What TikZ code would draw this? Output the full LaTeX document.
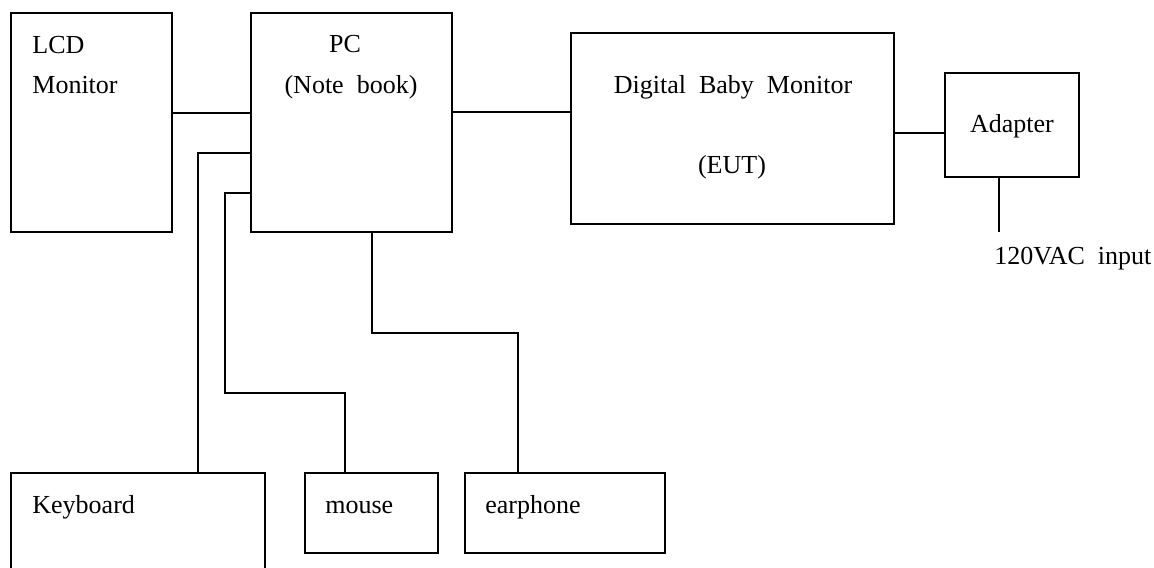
\documentclass[tikz,border=0pt]{standalone}
\usepackage{fontspec}
\setmainfont{Liberation Serif}
\begin{document}
\begin{tikzpicture}[x=0.5pt, y=-0.5pt]
\tikzset{boite/.style={draw, line width=1.1pt, inner sep=0pt},
  texte/.style={inner sep=0pt, font=\fontsize{13}{20}\selectfont},
  fil/.style={line width=1pt}}
\clip (0, 0) rectangle (1154, 567);
\node[boite, minimum width=80.5pt, minimum height=109.5pt] (lcd) at (91.5, 122.5) {};
\node[boite, minimum width=100.5pt, minimum height=109.5pt] (pc) at (351.5, 122.5) {};
\node[boite, minimum width=161.5pt, minimum height=95.5pt] (dbm) at (732.5, 128.5) {};
\node[boite, minimum width=67pt, minimum height=52pt] (adapter) at (1012, 125) {};
\node[boite, minimum width=127pt, minimum height=73.5pt] (kbd) at (138, 546.5) {};
\node[boite, minimum width=66.5pt, minimum height=40pt] (mouse) at (371.5, 513) {};
\node[boite, minimum width=100pt, minimum height=40pt] (ear) at (565, 513) {};
\node[texte, anchor=base west, align=left] (lcdtxt) at (32, 93) {LCD\\Monitor};
\node[texte, anchor=base] (pctxt) at (345, 53) {PC};
\node[texte, anchor=base] (notetxt) at (351, 93) {(Note\ \ book)};
\node[texte, anchor=base] (dbmtxt) at (733, 93) {Digital\ \ Baby\ \ Monitor};
\node[texte, anchor=base] (euttxt) at (732, 173) {(EUT)};
\node[texte, anchor=base] (adtxt) at (1012, 133) {Adapter};
\node[texte, anchor=base west] (kbdtxt) at (32, 513) {Keyboard};
\node[texte, anchor=base west] (mousetxt) at (325, 513) {mouse};
\node[texte, anchor=base west] (eartxt) at (485, 513) {earphone};
\coordinate (acin) at (999, 232);
\node[texte, anchor=base west] (actxt) at (994, 264) {120VAC\ \ input};
\draw[fil] (lcd.east |- 0,113) -- (pc.west |- 0,113);
\draw[fil] (pc.west |- 0,153) -| (198,0 |- kbd.north);
\draw[fil] (pc.west |- 0,193) -| (225,393) -| (345,0 |- mouse.north);
\draw[fil] (372,0 |- pc.south) |- (518,333) -- (518,0 |- ear.north);
\draw[fil] (pc.east |- 0,112) -- (dbm.west |- 0,112);
\draw[fil] (dbm.east |- 0,133) -- (adapter.west |- 0,133);
\draw[fil] (adapter.south -| acin) -- (acin);
\end{tikzpicture}
\end{document}
